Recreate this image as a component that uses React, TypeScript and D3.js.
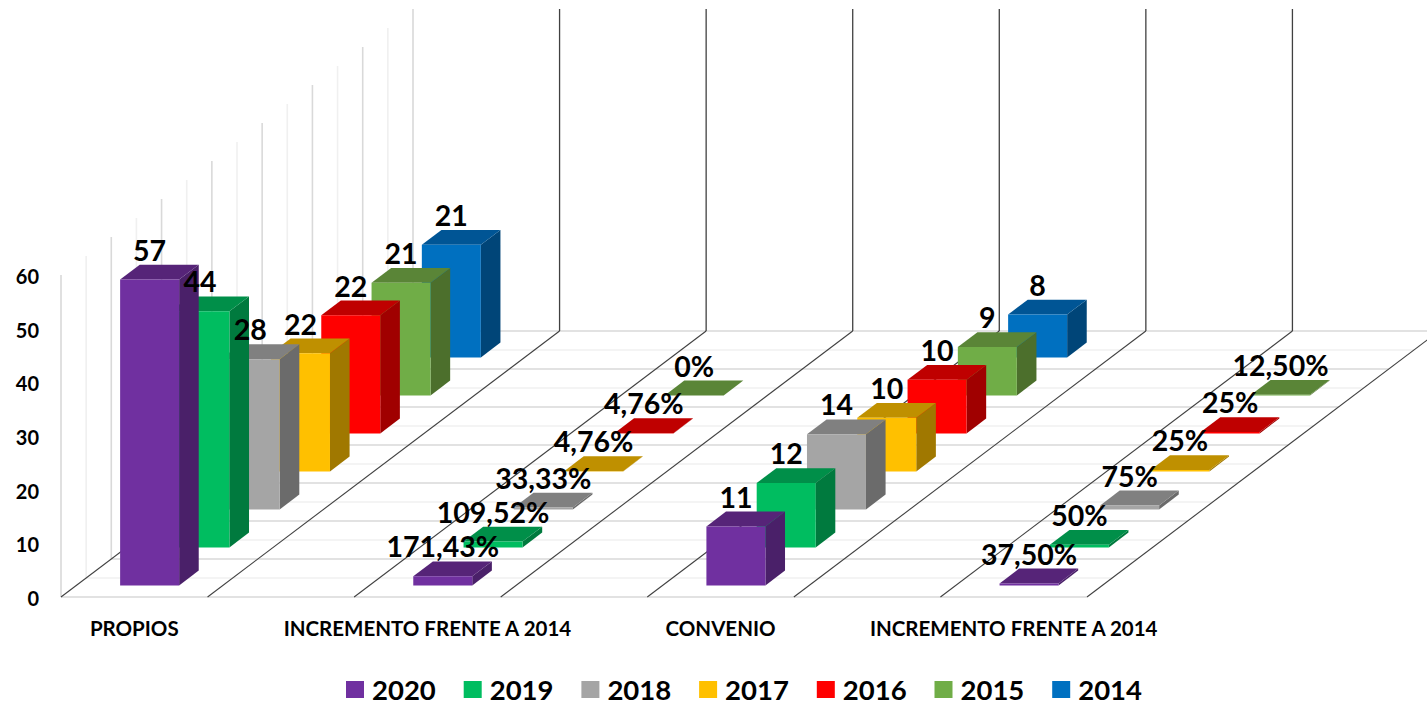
import React from "react";
import * as d3 from "d3";

const categories = ["PROPIOS", "", "INCREMENTO FRENTE A 2014", "", "CONVENIO", "", "INCREMENTO FRENTE A 2014"];
const seriesNames = ["2020", "2019", "2018", "2017", "2016", "2015", "2014"];
const frontColors = ["#7030A0", "#00BD60", "#A5A5A5", "#FFC000", "#FF0000", "#70AD47", "#0070C0"];
const topColors = ["#562478", "#008F49", "#808080", "#BF9000", "#BF0000", "#5A8537", "#005595"];
const sideColors = ["#4A2069", "#007A3E", "#6B6B6B", "#A07800", "#A00000", "#4C6F2C", "#004578"];
// each row: values for 2020..2014
const propios = [57, 44, 28, 22, 22, 21, 21];
const incrementoPropios = [1.7143, 1.0952, 0.3333, 0.0476, 0.0476, 0];
const incrementoPropiosLabels = ["171,43%", "109,52%", "33,33%", "4,76%", "4,76%", "0%"];
const convenio = [11, 12, 14, 10, 10, 9, 8];
const incrementoConvenio = [0.375, 0.5, 0.75, 0.25, 0.25, 0.125];
const incrementoConvenioLabels = ["37,50%", "50%", "75%", "25%", "25%", "12,50%"];
const yTicks = [0, 10, 20, 30, 40, 50, 60];

const FONT = "Lato, sans-serif";
const W = 1427, H = 702;
const originX = 61, originY = 597, plotW = 1026;
const depthDX = 352, depthDY = -266, axisH = 322;

const xScale = d3.scaleBand<number>().domain(d3.range(categories.length)).range([0, plotW]);
const zScale = d3.scaleBand<number>().domain(d3.range(seriesNames.length)).range([0, 1]).paddingInner(0.61).paddingOuter(0.305);
const yScale = d3.scaleLinear().domain([0, 60]).range([0, axisH]);
const barW = 59;

// oblique projection: x across, z depth 0..1, v height in value units
const proj = (x: number, z: number, v = 0): [number, number] => [
  originX + x + z * depthDX,
  originY + z * depthDY - yScale(v),
];
const poly = (pts: [number, number][]) => d3.line()(pts)! + "Z";

const groups = [
  { cat: 0, vals: propios, labels: propios.map(String) },
  { cat: 2, vals: incrementoPropios, labels: incrementoPropiosLabels },
  { cat: 4, vals: convenio, labels: convenio.map(String) },
  { cat: 6, vals: incrementoConvenio, labels: incrementoConvenioLabels },
];

type Bar = { cat: number; s: number; v: number; label: string };
const bars: Bar[] = groups.flatMap((g) =>
  g.vals.map((v, s) => ({ cat: g.cat, s, v, label: g.labels[s] }))
);
const sorted = [...bars].sort((a, b) => b.s - a.s || a.cat - b.cat);

const gridSteps = d3.range(0, seriesNames.length * 2 + 1).map((i) => i / (seriesNames.length * 2));

const barLeft = (cat: number) => xScale(cat)! + (xScale.bandwidth() - barW) / 2;

function Bar3D({ b }: { b: Bar }) {
  const x0 = barLeft(b.cat);
  const x1 = x0 + barW;
  const z0 = zScale(b.s)!;
  const z1 = z0 + zScale.bandwidth();
  return (
    <g>
      <path d={poly([proj(x1, z0), proj(x1, z1), proj(x1, z1, b.v), proj(x1, z0, b.v)])} fill={sideColors[b.s]} />
      <path d={poly([proj(x0, z0, b.v), proj(x1, z0, b.v), proj(x1, z1, b.v), proj(x0, z1, b.v)])} fill={topColors[b.s]} />
      <path d={poly([proj(x0, z0), proj(x1, z0), proj(x1, z0, b.v), proj(x0, z0, b.v)])} fill={frontColors[b.s]} />
    </g>
  );
}

function BarLabel({ b }: { b: Bar }) {
  const x0 = barLeft(b.cat);
  const z0 = zScale(b.s)!;
  const z1 = z0 + zScale.bandwidth();
  const [x] = proj(x0 + barW / 2, z0);
  const [, y] = proj(x0, z1, b.v);
  return (
    <text x={x} y={y - 15} textAnchor="middle" dominantBaseline="central" fontFamily={FONT} fontWeight={700} fontSize={28.5} fill="#000">
      {b.label}
    </text>
  );
}

const legendStep = 117.7;

export default function App() {
  const dividers = d3.range(1, categories.length + 1).map((i) => (i === categories.length ? plotW : xScale(i)!));
  return (
    <svg width={W} height={H} viewBox={`0 0 ${W} ${H}`} style={{ position: "absolute", left: 0, top: 0, background: "#fff" }}>
      {/* floor grid lines */}
      {gridSteps.map((z, i) => {
        const [xa, ya] = proj(0, z);
        const [xb] = proj(plotW, z);
        return <line key={i} x1={xa} x2={Math.min(xb, W)} y1={ya} y2={ya} stroke={i % 2 === 0 ? "#d9d9d9" : "#f0f0f0"} strokeWidth={1.6} />;
      })}
      {/* side wall vertical lines */}
      {gridSteps.map((z, i) => {
        const [xa, ya] = proj(0, z);
        const [, yb] = proj(0, z, 60);
        return <line key={i} x1={xa} x2={xa} y1={ya} y2={yb} stroke={i % 2 === 0 ? "#d9d9d9" : "#f0f0f0"} strokeWidth={1.6} />;
      })}
      {/* category dividers on floor and back wall */}
      <line x1={proj(0, 0)[0]} y1={proj(0, 0)[1]} x2={proj(0, 1)[0]} y2={proj(0, 1)[1]} stroke="#404040" strokeWidth={1.1} />
      {dividers.map((d, i) => {
        const [xf, yf] = proj(d, 0);
        const [xb, yb] = proj(d, 1);
        const [, yt] = proj(d, 1, 60);
        return (
          <g key={i}>
            <line x1={xf} y1={yf} x2={xb} y2={yb} stroke="#404040" strokeWidth={1.1} />
            {i < dividers.length - 1 ? <line x1={xb} y1={yb} x2={xb} y2={yt} stroke="#404040" strokeWidth={1.3} /> : null}
          </g>
        );
      })}
      {sorted.map((b) => (
        <Bar3D key={`${b.cat}-${b.s}`} b={b} />
      ))}
      {sorted.map((b) => (
        <BarLabel key={`${b.cat}-${b.s}`} b={b} />
      ))}
      {/* value axis */}
      {yTicks.map((t) => (
        <text key={t} x={39} y={originY - yScale(t) + 1} textAnchor="end" dominantBaseline="central" fontFamily={FONT} fontWeight={700} fontSize={20} fill="#000">
          {t}
        </text>
      ))}
      {/* category labels */}
      {categories.map((c, i) =>
        c ? (
          <text key={i} x={originX + xScale(i)! + xScale.bandwidth() / 2} y={628} textAnchor="middle" dominantBaseline="central" fontFamily={FONT} fontWeight={700} fontSize={20.5} fill="#000">
            {c}
          </text>
        ) : null
      )}
      {/* legend */}
      {seriesNames.map((s, i) => (
        <g key={s} transform={`translate(${346 + i * legendStep},0)`}>
          <rect x={0} y={681} width={18} height={17} fill={frontColors[i]} />
          <text x={26} y={689} dominantBaseline="central" fontFamily={FONT} fontWeight={700} fontSize={27.5} fill="#000">
            {s}
          </text>
        </g>
      ))}
    </svg>
  );
}
